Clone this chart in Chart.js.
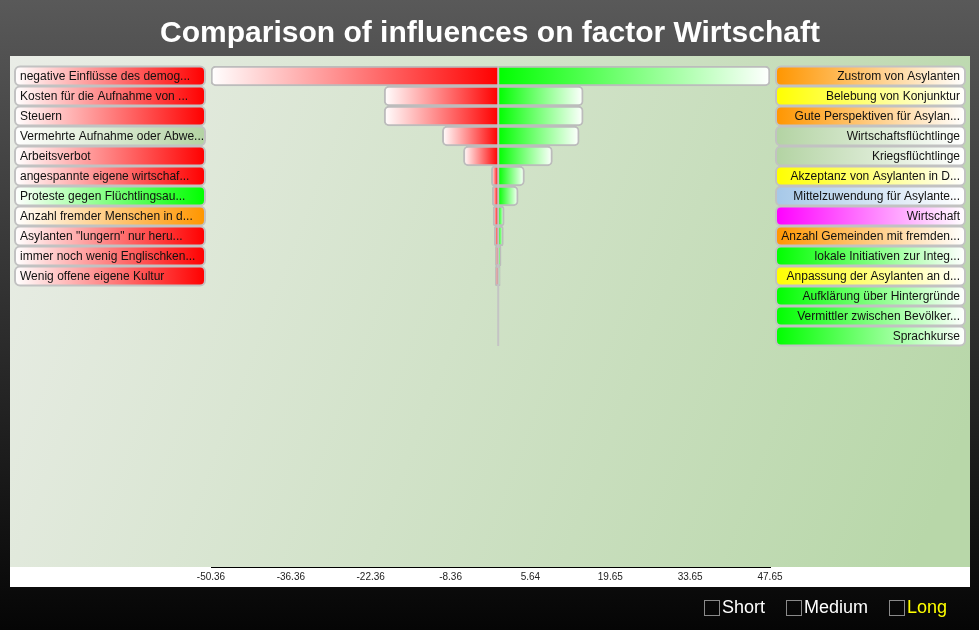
<!DOCTYPE html>
<html>
<head>
<meta charset="utf-8">
<script src="https://cdn.jsdelivr.net/npm/chart.js@4"></script>
<style>
  body {
    margin: 0;
    width: 979px;
    height: 630px;
    overflow: hidden;
    position: relative;
    background: linear-gradient(#595959, #050505);
    font-family: "Liberation Sans", Arial, sans-serif;
  }
  #myChart { position: absolute; left: 0; top: 0; }
  .opt {
    position: absolute;
    top: 597px;
    color: #fff;
    font-size: 18px;
    display: flex;
    align-items: center;
  }
  .opt .box {
    width: 14px;
    height: 14px;
    border: 1px solid #8a8a8a;
    margin-right: 2px;
  }
</style>
</head>
<body>
<canvas id="myChart" width="979" height="630"></canvas>
<div class="opt" style="left:704px"><span class="box"></span>Short</div>
<div class="opt" style="left:786px"><span class="box"></span>Medium</div>
<div class="opt" style="left:889px"><span class="box"></span><span style="color:#ffff00">Long</span></div>
<script>
const titleText = "Comparison of influences on factor Wirtschaft";

const leftLabels = [
  "negative Einflüsse des demog...",
  "Kosten für die Aufnahme von ...",
  "Steuern",
  "Vermehrte Aufnahme oder Abwe...",
  "Arbeitsverbot",
  "angespannte eigene wirtschaf...",
  "Proteste gegen Flüchtlingsau...",
  "Anzahl fremder Menschen in d...",
  "Asylanten \"lungern\" nur heru...",
  "immer noch wenig Englischken...",
  "Wenig offene eigene Kultur",
];
const leftValues = [-50.36, -20.0, -20.0, -9.8, -6.1, -1.2, -1.05, -0.9, -0.7, -0.5, -0.5];
const leftColors = ["#ff0000", "#ff0000", "#ff0000", "#b3d3a3", "#ff0000", "#ff0000",
  "#00ff00", "#ff9600", "#ff0000", "#ff0000", "#ff0000"];

const rightLabels = [
  "Zustrom von Asylanten",
  "Belebung von Konjunktur",
  "Gute Perspektiven für Asylan...",
  "Wirtschaftsflüchtlinge",
  "Kriegsflüchtlinge",
  "Akzeptanz von Asylanten in D...",
  "Mittelzuwendung für Asylante...",
  "Wirtschaft",
  "Anzahl Gemeinden mit fremden...",
  "lokale Initiativen zur Integ...",
  "Anpassung der Asylanten an d...",
  "Aufklärung über Hintergründe",
  "Vermittler zwischen Bevölker...",
  "Sprachkurse",
];
const rightValues = [47.65, 14.9, 14.9, 14.2, 9.5, 4.6, 3.5, 1.05, 0.9, 0.5, 0.35, 0, 0, 0];
const rightColors = ["#ff9600", "#ffff00", "#ff9600", "#b3d3a3", "#b3d3a3", "#ffff00",
  "#a6c8e8", "#ff00ff", "#ff9600", "#00ff00", "#ffff00", "#00ff00", "#00ff00", "#00ff00"];

const xTicks = [-50.36, -36.36, -22.36, -8.36, 5.64, 19.65, 33.65, 47.65];

// bar fill: white at the tip, full colour at the zero line
function barFill(ctx, color) {
  const xs = ctx.chart.scales.x;
  if (!xs || !ctx.raw) return color;
  const p0 = xs.getPixelForValue(0);
  const p1 = xs.getPixelForValue(ctx.raw.x);
  if (!isFinite(p0) || !isFinite(p1) || Math.abs(p0 - p1) < 0.5) return color;
  const g = ctx.chart.ctx.createLinearGradient(p1, 0, p0, 0);
  g.addColorStop(0, "#ffffff");
  g.addColorStop(1, color);
  return g;
}

const backdrop = {
  id: "backdrop",
  beforeDraw(chart) {
    const c = chart.ctx;
    c.save();
    // title
    c.fillStyle = "#ffffff";
    c.font = 'bold 30px "Liberation Sans", Arial, sans-serif';
    c.textAlign = "center";
    c.textBaseline = "middle";
    c.fillText(titleText, 490, 34);
    // plot background
    const g = c.createLinearGradient(10, 56, 970, 420);
    g.addColorStop(0, "#eaede7");
    g.addColorStop(1, "#b8d7a9");
    c.fillStyle = g;
    c.fillRect(10, 56, 960, 511);
    c.fillStyle = "#ffffff";
    c.fillRect(10, 567, 960, 20);
    c.restore();
  },
};

function labelBox(c, x, y, w, h, color, whiteLeft) {
  const g = c.createLinearGradient(x, 0, x + w, 0);
  if (whiteLeft) {
    g.addColorStop(0, "#ffffff");
    g.addColorStop(1, color);
  } else {
    g.addColorStop(0, color);
    g.addColorStop(1, "#ffffff");
  }
  c.beginPath();
  c.roundRect(x, y, w, h, 5);
  c.fillStyle = g;
  c.fill();
  c.lineWidth = 2;
  c.strokeStyle = "#c2c2c2";
  c.stroke();
}

const sideLabels = {
  id: "sideLabels",
  afterDatasetsDraw(chart) {
    const c = chart.ctx;
    const xs = chart.scales.x;
    const ys = chart.scales.y;
    c.save();
    // zero line
    const x0 = xs.getPixelForValue(0);
    c.strokeStyle = "#c4c4c4";
    c.lineWidth = 2;
    c.beginPath();
    c.moveTo(x0, ys.getPixelForValue(-0.5));
    c.lineTo(x0, ys.getPixelForValue(rightValues.length - 0.5));
    c.stroke();

    c.font = '12px "Liberation Sans", Arial, sans-serif';
    c.textBaseline = "middle";
    leftLabels.forEach((lbl, i) => {
      const y = ys.getPixelForValue(i);
      labelBox(c, 15, y - 9.5, 190, 19, leftColors[i], true);
      c.fillStyle = "#111";
      c.textAlign = "left";
      c.fillText(lbl, 20, y + 0.5);
    });
    rightLabels.forEach((lbl, i) => {
      const y = ys.getPixelForValue(i);
      labelBox(c, 776, y - 9.5, 189, 19, rightColors[i], false);
      c.fillStyle = "#111";
      c.textAlign = "right";
      c.fillText(lbl, 960, y + 0.5);
    });
    c.restore();
  },
};

const ctx = document.getElementById("myChart").getContext("2d");
const myChart = new Chart(ctx, {
  type: "bar",
  data: {
    datasets: [
      {
        label: "negative",
        data: leftValues.map((v, i) => ({ x: v, y: i })),
        backgroundColor: (c) => barFill(c, "#ff0000"),
      },
      {
        label: "positive",
        data: rightValues.map((v, i) => ({ x: v, y: i })),
        backgroundColor: (c) => barFill(c, "#00ff00"),
      },
    ],
  },
  options: {
    indexAxis: "y",
    responsive: false,
    animation: false,
    devicePixelRatio: 1,
    layout: { padding: { left: 211, right: 209, top: 66, bottom: 43 } },
    datasets: {
      bar: {
        grouped: false,
        barThickness: 20,
        borderWidth: 2,
        borderColor: "#bcbcbc",
        borderRadius: 5,
        borderSkipped: "start",
      },
    },
    scales: {
      x: {
        type: "linear",
        min: -50.36,
        max: 47.65,
        grid: { display: false, drawTicks: false },
        border: { display: true, color: "#000", width: 1 },
        afterBuildTicks: (scale) => {
          scale.ticks = xTicks.map((v) => ({ value: v }));
        },
        afterFit: (scale) => {
          scale.height = 20;
        },
        ticks: {
          autoSkip: false,
          maxRotation: 0,
          padding: 4,
          color: "#222",
          font: { size: 10, family: '"Liberation Sans", Arial, sans-serif' },
          callback: (v) => Number(v).toFixed(2),
        },
      },
      y: {
        type: "linear",
        display: false,
        offset: false,
        reverse: true,
        min: -0.5,
        max: 24.55,
        afterFit: (scale) => {
          scale.width = 0;
        },
      },
    },
    plugins: {
      legend: { display: false },
      tooltip: { enabled: false },
      title: { display: false },
    },
  },
  plugins: [backdrop, sideLabels],
});
</script>
</body>
</html>
